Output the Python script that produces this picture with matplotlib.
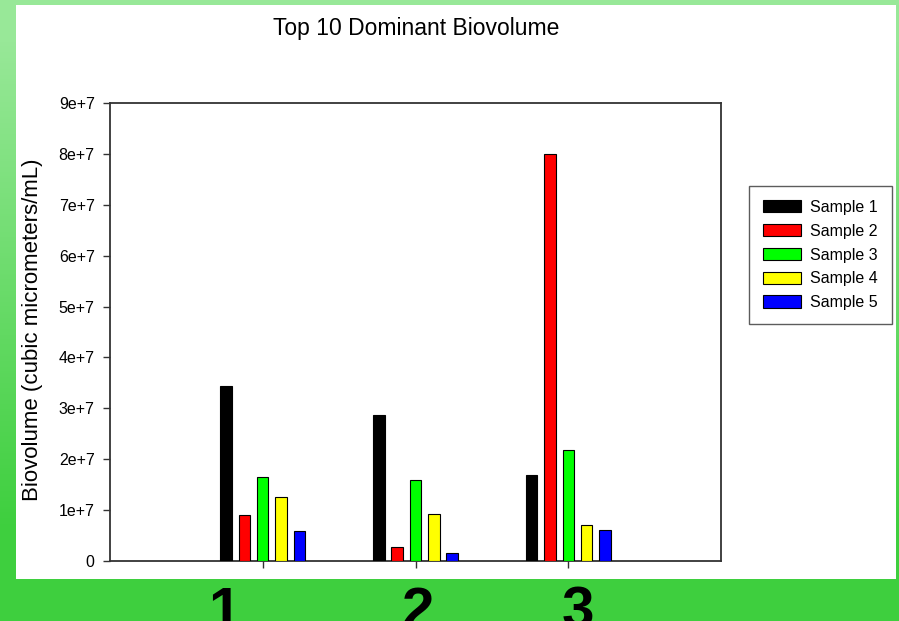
import numpy as np
import matplotlib
matplotlib.use("Agg")
import matplotlib.pyplot as plt
from matplotlib.patches import Rectangle
from matplotlib.colors import LinearSegmentedColormap

plt.rcParams["font.family"] = ["Liberation Sans", "DejaVu Sans"]

# --- data -------------------------------------------------------------
groups = [1, 2, 3]
group_labels = ["1", "2", "3"]
series_names = ["Sample 1", "Sample 2", "Sample 3", "Sample 4", "Sample 5"]
series_colors = ["#000000", "#ff0000", "#00ff00", "#ffff00", "#0000ff"]
sample1 = [3.44e7, 2.86e7, 1.69e7]
sample2 = [0.91e7, 0.28e7, 8.00e7]
sample3 = [1.65e7, 1.59e7, 2.18e7]
sample4 = [1.26e7, 0.92e7, 0.71e7]
sample5 = [0.59e7, 0.16e7, 0.60e7]
y_ticks = [0, 1e7, 2e7, 3e7, 4e7, 5e7, 6e7, 7e7, 8e7, 9e7]
y_tick_labels = ["0", "1e+7", "2e+7", "3e+7", "4e+7", "5e+7",
                 "6e+7", "7e+7", "8e+7", "9e+7"]
title = "Top 10 Dominant Biovolume"
y_label = "Biovolume (cubic micrometers/mL)"

W, H = 899, 621
fig = plt.figure(figsize=(W / 100, H / 100), dpi=100)

# --- green gradient backdrop with white panel --------------------------
bg = fig.add_axes([0, 0, 1, 1], zorder=-10)
bg.set_axis_off()
rows = np.linspace(0, 1, H)
grad = np.clip((rows * H - 40) / 490.0, 0, 1)[:, None]
cmap = LinearSegmentedColormap.from_list("g", ["#98e898", "#3ecf3e"])
bg.imshow(np.repeat(grad, 4, axis=1), aspect="auto", cmap=cmap,
          extent=[0, W, H, 0], vmin=0, vmax=1)
bg.add_patch(Rectangle((16, 5), 880, 574, facecolor="white", edgecolor="none"))
bg.set_xlim(0, W)
bg.set_ylim(H, 0)

# --- main axes --------------------------------------------------------
ax = fig.add_axes([110 / W, 1 - 561 / H, 611 / W, 458 / H])
ax.set_facecolor("white")

all_series = [sample1, sample2, sample3, sample4, sample5]
x = np.array(groups, dtype=float)
step, width = 0.12, 0.075
for i, (vals, name, col) in enumerate(zip(all_series, series_names, series_colors)):
    ax.bar(x + (i - 2) * step, vals, width=width, color=col,
           edgecolor="black", linewidth=0.8, label=name, zorder=3)

ax.set_xlim(0, 4)
ax.set_ylim(0, 9e7)
ax.set_xticks(groups)
ax.set_xticklabels([])
ax.set_yticks(y_ticks)
ax.set_yticklabels(y_tick_labels, fontsize=11.5)
ax.tick_params(axis="both", direction="out", length=5, width=1.0,
               color="#333333", pad=6)
for sp in ax.spines.values():
    sp.set_color("#333333")
    sp.set_linewidth(1.3)

fig.text(416 / W, 1 - 35 / H, title, fontsize=16.5,
         ha="center", va="baseline")
fig.text(33 / W, 1 - 330 / H, y_label, rotation=90, fontsize=16,
         ha="center", va="center")

leg = ax.legend(loc="center left",
                bbox_to_anchor=(749 / W, 1 - 255 / H),
                bbox_transform=fig.transFigure,
                fontsize=11.5, frameon=True, fancybox=False,
                borderaxespad=0, borderpad=0.85, handlelength=2.4,
                handleheight=0.8, handletextpad=0.6, labelspacing=0.55)
leg.get_frame().set_edgecolor("#333333")
leg.get_frame().set_linewidth(1.0)

# --- big group numbers on the green band -------------------------------
for gx, lab in zip([225, 418, 578], group_labels):
    fig.text(gx / W, 1 - 628 / H, lab, fontsize=42, fontweight="bold",
             ha="center", va="baseline", color="black")

fig.savefig("out.png", dpi=100)
